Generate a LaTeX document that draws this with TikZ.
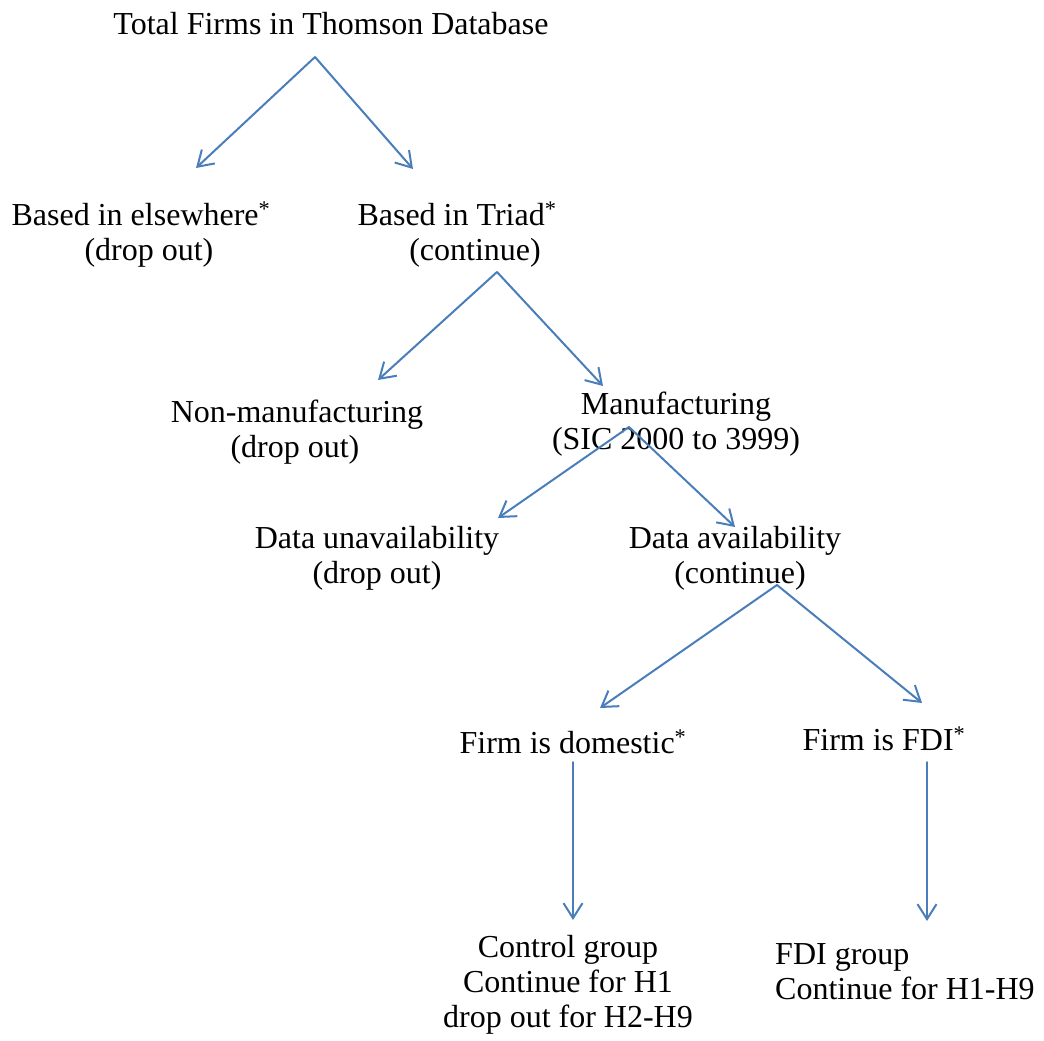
\documentclass[tikz,border=0pt]{standalone}
\usepackage{fontspec}
\setmainfont{Liberation Serif}
\usetikzlibrary{arrows.meta}
\definecolor{arr}{RGB}{74,126,187}
\begin{document}
\begin{tikzpicture}[x=1pt,y=-1pt,
  lbl/.style={font=\fontsize{32}{35}\selectfont, inner sep=0pt, align=center},
  conn/.style={draw=arr, line width=2pt, line cap=round,
    -{Straight Barb[length=15pt,width=19pt,line width=2pt]}}]
\path[use as bounding box] (0,0) rectangle (1044,1041);
% labels
\node[lbl] (total) at (331,24) {Total Firms in Thomson Database};
\node[lbl] (elsew) at (141,235) {Based in elsewhere\textsuperscript{*}\\\hspace*{16pt}(drop out)};
\node[lbl] (triad) at (457,235) {Based in Triad\textsuperscript{*}\\\hspace*{36pt}(continue)};
\node[lbl] (nonman) at (297,432) {Non-manufacturing\\(drop out)\hspace*{4pt}};
\node[lbl] (manuf) at (676,424) {Manufacturing\\(SIC 2000 to 3999)};
\node[lbl] (unav) at (377,558) {Data unavailability\\(drop out)};
\node[lbl] (avail) at (735,558) {Data availability\\\hspace*{10pt}(continue)};
\node[lbl] (dom) at (573,742) {Firm is domestic\textsuperscript{*}};
\node[lbl] (fdi) at (884,739) {Firm is FDI\textsuperscript{*}};
\node[lbl] (ctrl) at (568,985) {Control group\\Continue for H1\\drop out for H2-H9};
\node[lbl, align=left, anchor=west] (fdig) at (775,972) {FDI group\\Continue for H1-H9};
% connector points
\coordinate (a0) at (315,57);  \coordinate (a1) at (196,168); \coordinate (a2) at (413,169);
\coordinate (b0) at (497,272); \coordinate (b1) at (378,380); \coordinate (b2) at (603,386);
\coordinate (c0) at (629,427); \coordinate (c1) at (498,518); \coordinate (c2) at (735,527);
\coordinate (d0) at (777,585); \coordinate (d1) at (600,708); \coordinate (d2) at (922,703);
\coordinate (e0) at (573,762); \coordinate (e1) at (573,920);
\coordinate (f0) at (927,762); \coordinate (f1) at (927,921);
% connectors
\draw[conn] (a0) -- (a1); \draw[conn] (a0) -- (a2);
\draw[conn] (b0) -- (b1); \draw[conn] (b0) -- (b2);
\draw[conn] (c0) -- (c1); \draw[conn] (c0) -- (c2);
\draw[conn] (d0) -- (d1); \draw[conn] (d0) -- (d2);
\draw[conn] (e0) -- (e1);
\draw[conn] (f0) -- (f1);
\end{tikzpicture}
\end{document}
